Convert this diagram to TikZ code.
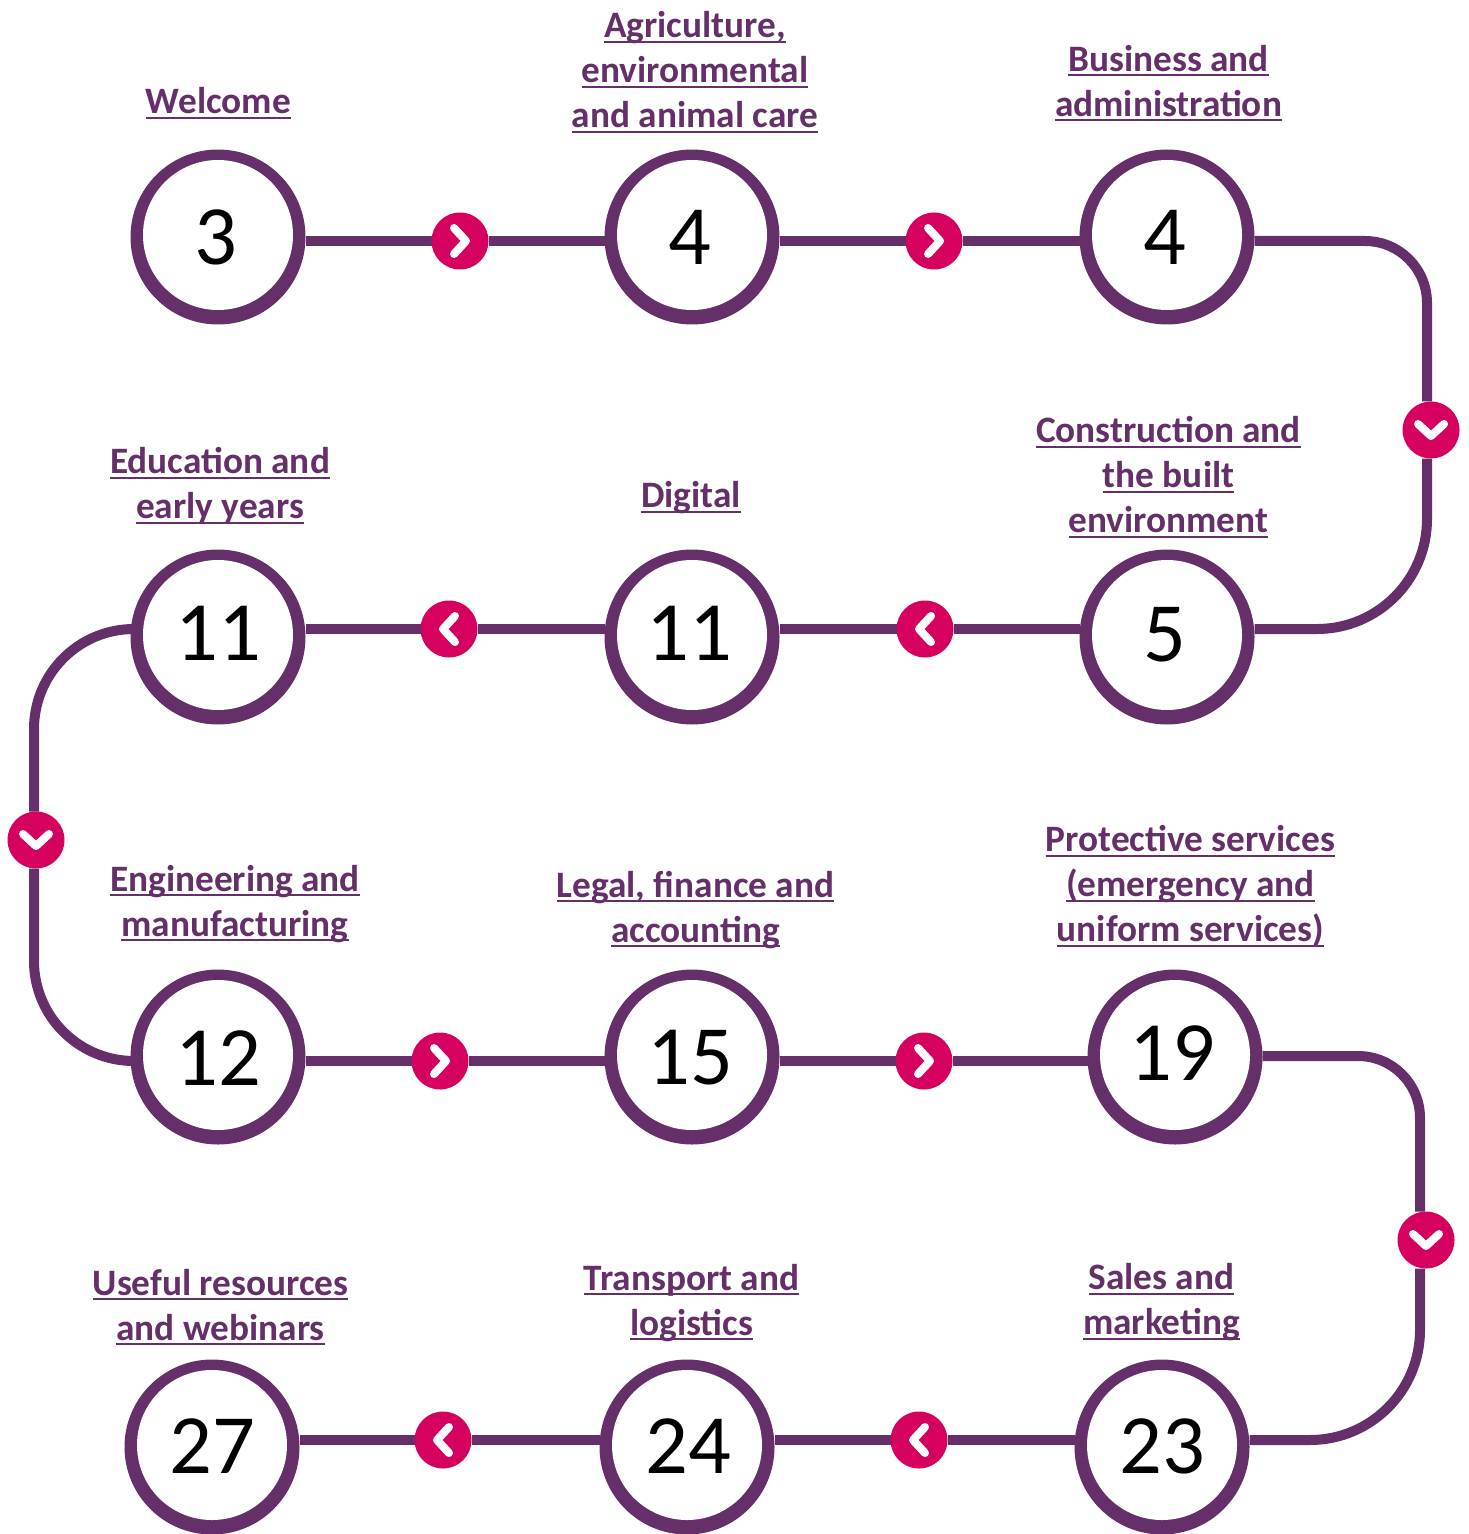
\documentclass[tikz,border=0pt]{standalone}
\usepackage{fontspec}
\setmainfont{Carlito}
\definecolor{plum}{HTML}{652F6A}
\definecolor{berry}{HTML}{D6005F}
\newcommand{\lnk}[1]{\setbox0\hbox{#1}\rlap{\rule[-2.5pt]{\wd0}{1pt}}\box0}
\tikzset{
    ring/.style={circle, inner sep=0pt, outer sep=0pt, fill=plum, minimum size=87.5pt},
    hole/.style={circle, inner sep=0pt, outer sep=0pt, fill=white, minimum size=75pt},
    num/.style={inner sep=0pt, font=\fontsize{42.2}{42.2}\selectfont},
    chev/.style={circle, inner sep=0pt, outer sep=0pt, fill=berry, minimum size=28.5pt},
    link/.style={draw=plum, line width=5pt},
    lab/.style={align=center, inner sep=0pt, text=plum, font=\fontsize{18.65}{22.5}\selectfont\bfseries},
    pics/tick/.style={code={\draw[white, line width=4pt, line cap=round, line join=round] (-6,-13) -- (6,0) -- (-6,13);}}
}
\begin{document}
\begin{tikzpicture}[x=0.5pt, y=-0.5pt]
    \useasboundingbox (0, 0) rectangle (1468, 1534);

    \node[ring] (r1) at (218, 237) {};
    \node[ring] (r2) at (692, 237) {};
    \node[ring] (r3) at (1167, 237) {};
    \node[ring] (r4) at (1167, 637) {};
    \node[ring] (r5) at (692, 637) {};
    \node[ring] (r6) at (218, 637) {};
    \node[ring] (r7) at (218, 1057) {};
    \node[ring] (r8) at (692, 1057) {};
    \node[ring] (r9) at (1175, 1057) {};
    \node[ring] (r10) at (1162, 1447) {};
    \node[ring] (r11) at (687, 1447) {};
    \node[ring] (r12) at (212, 1447) {};

    \node[hole] (h1) at (218, 235) {};
    \node[hole] (h2) at (692, 235) {};
    \node[hole] (h3) at (1167, 235) {};
    \node[hole] (h4) at (1167, 635) {};
    \node[hole] (h5) at (692, 635) {};
    \node[hole] (h6) at (218, 635) {};
    \node[hole] (h7) at (218, 1055) {};
    \node[hole] (h8) at (692, 1055) {};
    \node[hole] (h9) at (1175, 1055) {};
    \node[hole] (h10) at (1162, 1445) {};
    \node[hole] (h11) at (687, 1445) {};
    \node[hole] (h12) at (212, 1445) {};

    \node[num] (n1) at (216, 237) {3};
    \node[num] (n2) at (690, 237) {4};
    \node[num] (n3) at (1165, 237) {4};
    \node[num] (n4) at (1165, 635) {5};
    \node[num] (n5) at (689, 633) {11};
    \node[num] (n6) at (218.5, 633) {11};
    \node[num] (n7) at (218, 1058) {12};
    \node[num] (n8) at (690, 1058) {15};
    \node[num] (n9) at (1172, 1053) {19};
    \node[num] (n10) at (1162, 1446) {23};
    \node[num] (n11) at (688, 1446) {24};
    \node[num] (n12) at (212, 1446) {27};

    \node[chev] (c1) at (460, 241) {};
    \node[chev] (c2) at (934, 241) {};
    \node[chev] (c3) at (1431, 430) {};
    \node[chev] (c4) at (925, 629) {};
    \node[chev] (c5) at (449, 629) {};
    \node[chev] (c6) at (36, 840) {};
    \node[chev] (c7) at (440, 1061) {};
    \node[chev] (c8) at (924, 1061) {};
    \node[chev] (c9) at (1426, 1240) {};
    \node[chev] (c10) at (919, 1440) {};
    \node[chev] (c11) at (443, 1440) {};

    \pic at (c1) {tick};
    \pic at (c2) {tick};
    \pic[rotate=-90] at (c3) {tick};
    \pic[rotate=180] at (c4) {tick};
    \pic[rotate=180] at (c5) {tick};
    \pic[rotate=-90] at (c6) {tick};
    \pic at (c7) {tick};
    \pic at (c8) {tick};
    \pic[rotate=-90] at (c9) {tick};
    \pic[rotate=180] at (c10) {tick};
    \pic[rotate=180] at (c11) {tick};

    \coordinate (t1) at (1427, 241);
    \coordinate (t2) at (1427, 629);
    \coordinate (t3) at (34, 629);
    \coordinate (t4) at (34, 1061);
    \coordinate (t5) at (1420, 1056);
    \coordinate (t6) at (1420, 1440);

    \draw[link] (r1.east |- c1) -- (c1.west);
    \draw[link] (c1.east) -- (r2.west |- c1);
    \draw[link] (r2.east |- c2) -- (c2.west);
    \draw[link] (c2.east) -- (r3.west |- c2);
    \draw[link, rounded corners=31pt] (r3.east |- t1) -- (t1) -- (t1 |- c3.north);
    \draw[link, rounded corners=55pt] (t2 |- c3.south) -- (t2) -- (r4.east |- t2);
    \draw[link] (r4.west |- c4) -- (c4.east);
    \draw[link] (c4.west) -- (r5.east |- c4);
    \draw[link] (r5.west |- c5) -- (c5.east);
    \draw[link] (c5.west) -- (r6.east |- c5);
    \draw[link, rounded corners=50pt] (r6.west |- t3) -- (t3) -- (t3 |- c6.north);
    \draw[link, rounded corners=50pt] (t4 |- c6.south) -- (t4) -- (r7.west |- t4);
    \draw[link] (r7.east |- c7) -- (c7.west);
    \draw[link] (c7.east) -- (r8.west |- c7);
    \draw[link] (r8.east |- c8) -- (c8.west);
    \draw[link] (c8.east) -- (r9.west |- c8);
    \draw[link, rounded corners=31pt] (r9.east |- t5) -- (t5) -- (t5 |- c9.north);
    \draw[link, rounded corners=55pt] (t6 |- c9.south) -- (t6) -- (r10.east |- t6);
    \draw[link] (r10.west |- c10) -- (c10.east);
    \draw[link] (c10.west) -- (r11.east |- c10);
    \draw[link] (r11.west |- c11) -- (c11.east);
    \draw[link] (c11.west) -- (r12.east |- c11);

    \node[lab] (l1) at (218.5, 103) {\lnk{Welcome}};
    \node[lab] (l2) at (695, 72) {\lnk{Agriculture,}\\\lnk{environmental}\\\lnk{and animal care}};
    \node[lab] (l3) at (1168.5, 83) {\lnk{Business and}\\\lnk{administration}};
    \node[lab] (l4) at (1168.5, 477) {\lnk{Construction and}\\\lnk{the built}\\\lnk{environment}};
    \node[lab] (l5) at (691, 498) {\lnk{Digital}};
    \node[lab] (l6) at (220, 486) {\lnk{Education and}\\\lnk{early years}};
    \node[lab] (l7) at (235, 904) {\lnk{Engineering and}\\\lnk{manufacturing}};
    \node[lab] (l8) at (695.5, 910) {\lnk{Legal, finance and}\\\lnk{accounting}};
    \node[lab] (l9) at (1190.5, 886.5) {\lnk{Protective services}\\\lnk{(emergency and}\\\lnk{uniform services)}};
    \node[lab] (l10) at (1161.5, 1302.5) {\lnk{Sales and}\\\lnk{marketing}};
    \node[lab] (l11) at (691.5, 1303) {\lnk{Transport and}\\\lnk{logistics}};
    \node[lab] (l12) at (220.5, 1307) {\lnk{Useful resources}\\\lnk{and webinars}};
\end{tikzpicture}
\end{document}
